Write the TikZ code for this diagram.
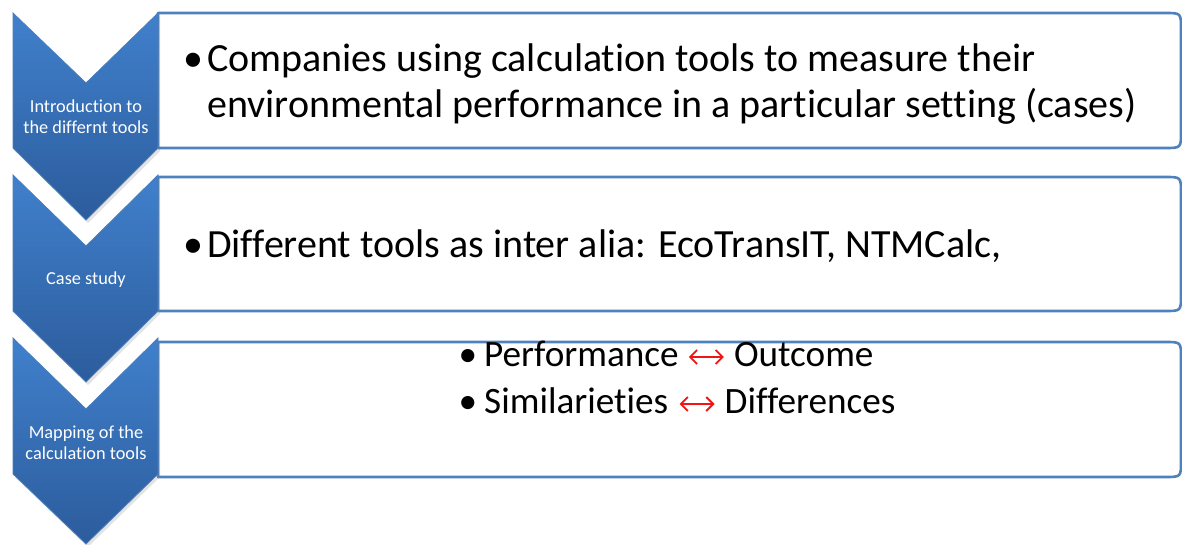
\documentclass[tikz,border=0pt]{standalone}
\usepackage{fontspec}
\setmainfont{Carlito}[Ligatures={NoCommon,NoRequired,NoContextual}]
\usetikzlibrary{shadows,arrows.meta}
\definecolor{chevtop}{RGB}{64,128,204}
\definecolor{chevbot}{RGB}{44,92,156}
\definecolor{chevedge}{RGB}{74,126,187}
\definecolor{boxline}{RGB}{79,129,189}
\definecolor{arrowred}{RGB}{240,20,20}
\tikzset{
  chev/.style={top color=chevtop, bottom color=chevbot, draw=chevedge, line width=0.8pt,
    drop shadow={opacity=0.22, shadow xshift=2pt, shadow yshift=-3pt}},
  boxst/.style={draw=boxline, line width=2.6pt, fill=white, line join=round},
  chevlabel/.style={text=white, font=\fontsize{18.3}{21}\selectfont, align=center, inner sep=0pt},
  bigtext/.style={anchor=base west, inner sep=0pt, font=\fontsize{40}{46}\selectfont},
  subtext/.style={anchor=base west, inner sep=0pt, font=\fontsize{37.2}{44}\selectfont},
  bulletst/.style={anchor=base, inner sep=0pt},
  redarrow/.style={draw=arrowred, line width=1.8pt,
    {Straight Barb[length=7pt,width=14pt]}-{Straight Barb[length=7pt,width=14pt]}},
}
\begin{document}
\begin{tikzpicture}[x=1pt,y=-1pt]
\useasboundingbox (0,0) rectangle (1182,545);
% boxes
\draw[boxst] (158,13) -- (1165,13) .. controls (1181,13) .. (1181,29) -- (1181,132) .. controls (1181,148) .. (1165,148) -- (158,148) -- cycle;
\draw[boxst] (158,177) -- (1165,177) .. controls (1181,177) .. (1181,193) -- (1181,295) .. controls (1181,311) .. (1165,311) -- (158,311) -- cycle;
\draw[boxst] (158,342) -- (1165,342) .. controls (1181,342) .. (1181,358) -- (1181,461) .. controls (1181,477) .. (1165,477) -- (158,477) -- cycle;
% chevrons
\path[chev] (13,13) -- (86,83) -- (158,13) -- (158,148) -- (86,220) -- (13,148) -- cycle;
\path[chev] (13,175) -- (86,246) -- (158,175) -- (158,311) -- (86,382) -- (13,311) -- cycle;
\path[chev] (13,338) -- (86,409) -- (158,338) -- (158,474) -- (86,544) -- (13,474) -- cycle;
% chevron labels
\node[chevlabel] (l1) at (86,117) {Introduction to\\the differnt tools};
\node[chevlabel] (l2) at (86,280) {Case study};
\node[chevlabel] (l3) at (86,443) {Mapping of the\\calculation tools};
% box 1 text
\node[bulletst, font=\fontsize{40}{46}\selectfont] (b1) at (193,72) {•};
\node[bigtext] (t1a) at (207,72) {Companies using calculation tools to measure their};
\node[bigtext] (t1b) at (207,118) {environmental performance in a particular setting (cases)};
% box 2 text
\node[bulletst, font=\fontsize{40}{46}\selectfont] (b2) at (193,258) {•};
\node[bigtext] (t2) at (207,258) {Different tools as inter alia: EcoTransIT, NTMCalc,};
% box 3 text
\node[bulletst, font=\fontsize{37.2}{44}\selectfont] (b3) at (468,366) {•};
\node[subtext] (p1) at (484,366) {Performance};
\node[subtext] (o1) at ([xshift=55pt]p1.base east) {Outcome};
\draw[redarrow] ([xshift=10pt,yshift=9pt]p1.base east) -- ([xshift=-10pt,yshift=9pt]o1.base west);
\node[bulletst, font=\fontsize{37.2}{44}\selectfont] (b4) at (468,413) {•};
\node[subtext] (s1) at (484,413) {Similarieties};
\node[subtext] (d1) at ([xshift=56pt]s1.base east) {Differences};
\draw[redarrow] ([xshift=11pt,yshift=9pt]s1.base east) -- ([xshift=-10pt,yshift=9pt]d1.base west);
\end{tikzpicture}
\end{document}
